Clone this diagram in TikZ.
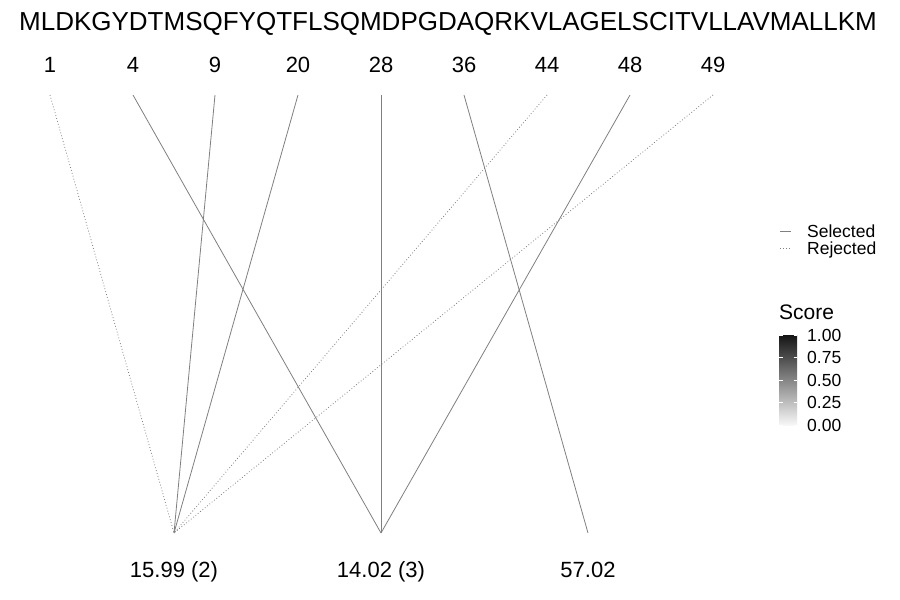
\documentclass[tikz,border=0pt]{standalone}
\usepackage{fontspec}
\setmainfont{Liberation Sans}
\begin{document}
\begin{tikzpicture}[x=1pt,y=-1pt,
  lnk/.style={line width=0.8pt, color=black!50},
  rej/.style={line width=0.8pt, color=black!50, dash pattern=on 0.8pt off 2.2pt},
  seqtxt/.style={font=\fontsize{26}{30}\selectfont, inner sep=0pt, anchor=base},
  numtxt/.style={font=\fontsize{22}{26}\selectfont, inner sep=0pt, anchor=base},
  legtxt/.style={font=\fontsize{17.5}{19}\selectfont, inner sep=0pt, anchor=base west},
  tickw/.style={draw=white, line width=0.6pt}]
\useasboundingbox (0,0) rectangle (900,600);
\fill[white] (0,0) rectangle (900,600);
\node[seqtxt] (seq) at (448,30) {MLDKGYDTMSQFYQTFLSQMDPGDAQRKVLAGELSCITVLLAVMALLKM};
% top positions
\foreach \lab/\x in {1/50,4/133,9/215,20/298,28/381,36/464,44/547,48/630,49/713}{
  \node[numtxt] (p\lab) at (\x,72) {\lab};
  \coordinate (t\lab) at (\x,95);
}
% bottom masses
\coordinate (b1) at (174,533);
\coordinate (b2) at (381,533);
\coordinate (b3) at (588,533);
\node[numtxt] (m1) at (174,577) {15.99 (2)};
\node[numtxt] (m2) at (381,577) {14.02 (3)};
\node[numtxt] (m3) at (588,577) {57.02};
% connectors
\draw[rej] (t1) -- (b1);
\draw[rej] (t44) -- (b1);
\draw[rej] (t49) -- (b1);
\draw[lnk] (t9) -- (b1);
\draw[lnk] (t20) -- (b1);
\draw[lnk] (t4) -- (b2);
\draw[lnk] (t28) -- (b2);
\draw[lnk] (t48) -- (b2);
\draw[lnk] (t36) -- (b3);
% legend
\coordinate (ka) at (780,231); \coordinate (kb) at (791,231);
\coordinate (kc) at (780,248); \coordinate (kd) at (791,248);
\draw[lnk] (ka) -- (kb);
\draw[rej] (kc) -- (kd);
\node[legtxt] (lsel) at (807,237) {Selected};
\node[legtxt] (lrej) at (807,254) {Rejected};
% colour bar
\node[font=\fontsize{21}{24}\selectfont, inner sep=0pt, anchor=base west] (score) at (779,319) {Score};
\shade[bottom color=black!3, top color=black!92] (779,425) rectangle (797,335);
\foreach \v/\y in {1.00/335,0.75/357.5,0.50/380,0.25/402.5,0.00/425}{
  \node[legtxt, anchor=west] (c\v) at (807,\y) {\v};
  \draw[tickw] (779,\y) -- (782.5,\y);
  \draw[tickw] (793.5,\y) -- (797,\y);
}
\end{tikzpicture}
\end{document}
